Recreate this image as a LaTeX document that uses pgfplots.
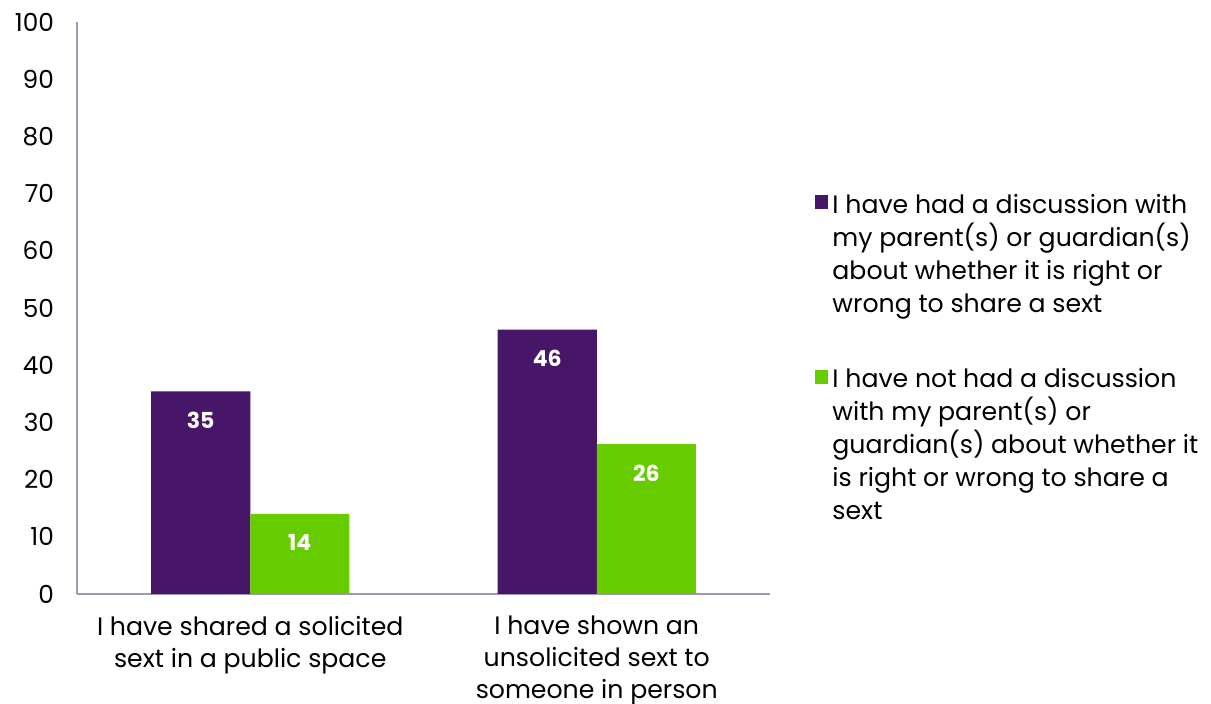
\documentclass[border=0pt]{standalone}
\usepackage{pgfplots}
\pgfplotsset{compat=1.18}
\usepackage{fontspec}
\setmainfont{Poppins}
\definecolor{cpurple}{RGB}{72,22,104}
\definecolor{cgreen}{RGB}{102,204,0}
\definecolor{caxis}{RGB}{160,150,180}
\begin{document}
\begin{tikzpicture}
\begin{axis}[
  at={(0pt,0pt)}, anchor=south west,
  scale only axis, width=346.5pt, height=286pt,
  xmin=-0.5, xmax=1.5, ymin=0, ymax=100,
  axis x line*=bottom, axis y line*=left,
  axis line style={caxis, line width=1pt},
  ytick={0,10,...,100}, major tick length=0pt,
  xtick={0,1},
  xticklabels={{I have shared a solicited\\sext in a public space},{I have shown an\\unsolicited sext to\\someone in person}},
  xticklabel style={align=center, font=\fontsize{12.6}{16}\selectfont, anchor=north, yshift=-7.5pt},
  yticklabel style={font=\fontsize{12.4}{14}\selectfont, xshift=-8pt},
  /pgf/number format/assume math mode=true,
  ybar, bar width=0.286,
  nodes near coords,
  nodes near coords style={font=\bfseries\fontsize{11}{13}\selectfont, text=white, anchor=center, yshift=-14.5pt, /pgf/number format/precision=0, /pgf/number format/fixed},
  legend cell align=left,
  legend style={at={(1.065,0.706)}, anchor=north west, draw=none, fill=none,
    font=\fontsize{12.6}{16.5}\selectfont, align=left,
    row sep=22.5pt, inner sep=0pt},
]
\addplot[fill=cpurple, draw=none, bar shift=-0.143,
  legend image code/.code={\fill[cpurple] (0pt,23pt) rectangle (6.5pt,30pt);}] coordinates {(0,35.4) (1,46.2)};
\addplot[fill=cgreen, draw=none, bar shift=0.143,
  legend image code/.code={\fill[cgreen] (0pt,31pt) rectangle (6.5pt,38pt);}] coordinates {(0,14) (1,26.2)};
\legend{{I have had a discussion with\\my parent(s) or guardian(s)\\about whether it is right or\\wrong to share a sext},{I have not had a discussion\\with my parent(s) or\\guardian(s) about whether it\\is right or wrong to share a\\sext}}
\end{axis}
\pgfresetboundingbox
\useasboundingbox (-38.5pt,-55pt) rectangle (567pt,297pt);
\end{tikzpicture}
\end{document}
